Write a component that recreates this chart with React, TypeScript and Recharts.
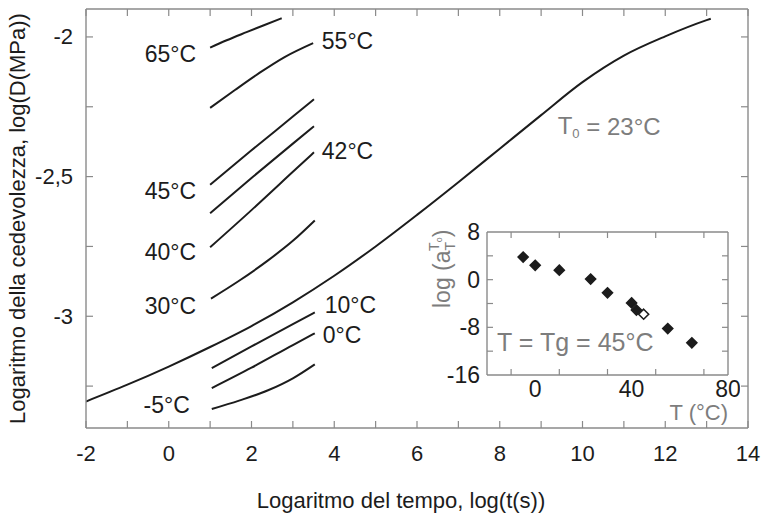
import React from "react";
import { LineChart, Line, XAxis, YAxis, ReferenceDot, ScatterChart, Scatter } from "recharts";

const FONT = "'Liberation Sans', Arial, Helvetica, sans-serif";
const INK = "#1c1c1c";
const GREY = "#7d7d7d";
const FRAME = "#8a8a8a";

// main plot axes
const X_TICKS = [-2, -1, 0, 1, 2, 3, 4, 5, 6, 7, 8, 9, 10, 11, 12, 13, 14];
const Y_TICKS = [-3.25, -3, -2.75, -2.5, -2.25, -2];
const Y_LABELED = [-3, -2.5, -2];

// master curve, T0 = 23°C
const MASTER_X = [-2, -1, 0, 1, 2, 3, 4, 5, 6, 7, 8, 9, 10, 11, 12, 13, 13.1];
const MASTER_Y = [-3.305, -3.245, -3.18, -3.11, -3.035, -2.95, -2.855, -2.75, -2.637, -2.52, -2.4, -2.28, -2.162, -2.067, -1.998, -1.94, -1.935];

// isotherms (log t, log D)
const T65_X = [1, 1.4, 1.88, 2.3, 2.73];
const T65_Y = [-2.038, -2.012, -1.983, -1.958, -1.933];
const T55_X = [1, 1.6, 2.2, 2.8, 3.49];
const T55_Y = [-2.254, -2.19, -2.128, -2.072, -2.022];
const T45_X = [1, 2, 3, 3.51];
const T45_Y = [-2.529, -2.406, -2.285, -2.223];
const T42_X = [1, 2, 3, 3.51];
const T42_Y = [-2.631, -2.505, -2.382, -2.32];
const T40_X = [1, 2, 3, 3.51];
const T40_Y = [-2.753, -2.62, -2.483, -2.413];
const T30_X = [1.02, 1.7, 2.4, 3, 3.53];
const T30_Y = [-2.937, -2.873, -2.8, -2.73, -2.657];
const T10_X = [1.04, 2, 3, 3.53];
const T10_Y = [-3.186, -3.108, -3.028, -2.986];
const T0_X = [1.04, 2, 3, 3.53];
const T0_Y = [-3.257, -3.184, -3.103, -3.061];
const TM5_X = [1.04, 1.7, 2.4, 3, 3.53];
const TM5_Y = [-3.332, -3.302, -3.265, -3.222, -3.172];

// inset: shift factor vs temperature
const SHIFT_T = [-5, 0, 10, 23, 30, 40, 42, 55, 65];
const SHIFT_LOG = [3.8, 2.4, 1.6, 0.1, -2.2, -3.9, -5.1, -8.2, -10.6];
const TG_T = [45];
const TG_LOG = [-5.8];
const INSET_X_TICKS = [-10, 0, 10, 30, 40, 50, 70, 80];
const INSET_X_LABELED = [0, 40, 80];
const INSET_Y_TICKS = [-16, -12, -8, -4, 0, 4, 8];
const INSET_Y_LABELED = [-16, -8, 0, 8];

const zip = (xs: number[], ys: number[]) => xs.map((x, i) => ({ x, y: ys[i] }));

const MASTER = zip(MASTER_X, MASTER_Y);
const ISOTHERMS = [
  zip(T65_X, T65_Y), zip(T55_X, T55_Y), zip(T45_X, T45_Y), zip(T42_X, T42_Y), zip(T40_X, T40_Y),
  zip(T30_X, T30_Y), zip(T10_X, T10_Y), zip(T0_X, T0_Y), zip(TM5_X, TM5_Y),
];
const SHIFTS = SHIFT_T.map((t, i) => ({ t, a: SHIFT_LOG[i] }));
const TG = TG_T.map((t, i) => ({ t, a: TG_LOG[i] }));

const txt = { fontFamily: FONT };

const BottomTick = ({ x, y, payload }: any) => (
  <g>
    <line x1={x} y1={y} x2={x} y2={y - 7} stroke={FRAME} strokeWidth={1.2} />
    {payload.value % 2 === 0 && (
      <text x={x} y={y + 25} textAnchor="middle" dominantBaseline="central" fontSize={22} fill={INK} style={txt}>
        {payload.value}
      </text>
    )}
  </g>
);
const TopTick = ({ x, y }: any) => <line x1={x} y1={y} x2={x} y2={y + 7} stroke={FRAME} strokeWidth={1.2} />;
const LeftTick = ({ x, y, payload }: any) => (
  <g>
    <line x1={x} y1={y} x2={x + 7} y2={y} stroke={FRAME} strokeWidth={1.2} />
    {Y_LABELED.includes(payload.value) && (
      <text x={x - 13} y={y} textAnchor="end" dominantBaseline="central" fontSize={22} fill={INK} style={txt}>
        {String(payload.value).replace(".", ",")}
      </text>
    )}
  </g>
);
const RightTick = ({ x, y }: any) => <line x1={x} y1={y} x2={x - 7} y2={y} stroke={FRAME} strokeWidth={1.2} />;

const InsetBottomTick = ({ x, y, payload }: any) => (
  <g>
    {!INSET_X_LABELED.includes(payload.value) && (
      <line x1={x} y1={y} x2={x} y2={y - 6} stroke={FRAME} strokeWidth={1.2} />
    )}
    {INSET_X_LABELED.includes(payload.value) && (
      <text x={x} y={y + 14} textAnchor="middle" dominantBaseline="central" fontSize={23} fill={INK} style={txt}>
        {payload.value}
      </text>
    )}
  </g>
);
const InsetTopTick = ({ x, y, payload }: any) =>
  INSET_X_LABELED.includes(payload.value) ? <g /> : <line x1={x} y1={y} x2={x} y2={y + 6} stroke={FRAME} strokeWidth={1.2} />;
const InsetLeftTick = ({ x, y, payload }: any) => (
  <g>
    {payload.value !== 8 && payload.value !== -16 && (
      <line x1={x} y1={y} x2={x + 6} y2={y} stroke={FRAME} strokeWidth={1.2} />
    )}
    {INSET_Y_LABELED.includes(payload.value) && (
      <text x={x - 7} y={y} textAnchor="end" dominantBaseline="central" fontSize={23} fill={INK} style={txt}>
        {payload.value}
      </text>
    )}
  </g>
);
const InsetRightTick = ({ x, y, payload }: any) =>
  payload.value === 8 || payload.value === -16 ? <g /> : <line x1={x} y1={y} x2={x - 6} y2={y} stroke={FRAME} strokeWidth={1.2} />;

const tag = (text: string, anchor: "start" | "end", size = 23, color = INK) => ({ viewBox }: any) => (
  <text x={viewBox.x} y={viewBox.y} textAnchor={anchor} dominantBaseline="central" fontSize={size} fill={color} style={txt}>
    {text}
  </text>
);

const Diamond = ({ cx, cy, open }: any) => (
  <polygon
    points={`${cx},${cy - 5} ${cx + 5},${cy} ${cx},${cy + 5} ${cx - 5},${cy}`}
    fill={open ? "#fff" : INK}
    stroke={INK}
    strokeWidth={1.6}
  />
);

const frame = { stroke: FRAME, strokeWidth: 1.4 };

export default function App() {
  return (
    <div style={{ position: "absolute", left: 0, top: 0, width: 764, height: 517, background: "#fff" }}>
      <LineChart width={764} height={517} margin={{ top: 8, right: 15, bottom: 0, left: 0 }}>
        <XAxis
          xAxisId="b" type="number" dataKey="x" domain={[-2, 14]} ticks={X_TICKS} interval={0}
          allowDataOverflow height={89} tickSize={0} tickMargin={0} tickLine={false} axisLine={frame}
          tick={BottomTick}
          label={({ viewBox }: any) => (
            <text x={viewBox.x + viewBox.width / 2 - 16} y={viewBox.y + 72} textAnchor="middle" dominantBaseline="central" fontSize={22} fill={INK} style={txt}>
              Logaritmo del tempo, log(t(s))
            </text>
          )}
        />
        <XAxis
          xAxisId="t" orientation="top" type="number" dataKey="x" domain={[-2, 14]} ticks={X_TICKS} interval={0}
          allowDataOverflow height={1} tickSize={0} tickMargin={0} tickLine={false} axisLine={frame} tick={TopTick}
        />
        <YAxis
          yAxisId="l" type="number" dataKey="y" domain={[-3.4, -1.9]} ticks={Y_TICKS} interval={0}
          allowDataOverflow width={86} tickSize={0} tickMargin={0} tickLine={false} axisLine={frame}
          tick={LeftTick}
          label={({ viewBox }: any) => {
            const cx = viewBox.x + 25;
            const cy = viewBox.y + viewBox.height / 2;
            return (
              <text x={cx} y={cy} transform={`rotate(-90, ${cx}, ${cy})`} textAnchor="middle" fontSize={22} fill={INK} style={txt}>
                Logaritmo della cedevolezza, log(D(MPa))
              </text>
            );
          }}
        />
        <YAxis
          yAxisId="r" orientation="right" type="number" dataKey="y" domain={[-3.4, -1.9]} ticks={Y_TICKS} interval={0}
          allowDataOverflow width={1} tickSize={0} tickMargin={0} tickLine={false} axisLine={frame} tick={RightTick}
        />
        <Line
          xAxisId="b" yAxisId="l" data={MASTER} dataKey="y" type="monotone" stroke={INK} strokeWidth={2}
          dot={false} isAnimationActive={false}
        />
        {ISOTHERMS.map((d, i) => (
          <Line
            key={i} xAxisId="b" yAxisId="l" data={d} dataKey="y" type="monotone" stroke={INK} strokeWidth={2}
            dot={false} isAnimationActive={false}
          />
        ))}
        <ReferenceDot xAxisId="b" yAxisId="l" x={0.66} y={-2.061} r={0} fill="none" stroke="none" label={tag("65°C", "end")} />
        <ReferenceDot xAxisId="b" yAxisId="l" x={0.66} y={-2.55} r={0} fill="none" stroke="none" label={tag("45°C", "end")} />
        <ReferenceDot xAxisId="b" yAxisId="l" x={0.66} y={-2.771} r={0} fill="none" stroke="none" label={tag("40°C", "end")} />
        <ReferenceDot xAxisId="b" yAxisId="l" x={0.66} y={-2.964} r={0} fill="none" stroke="none" label={tag("30°C", "end")} />
        <ReferenceDot xAxisId="b" yAxisId="l" x={0.51} y={-3.318} r={0} fill="none" stroke="none" label={tag("-5°C", "end")} />
        <ReferenceDot xAxisId="b" yAxisId="l" x={3.7} y={-2.014} r={0} fill="none" stroke="none" label={tag("55°C", "start")} />
        <ReferenceDot xAxisId="b" yAxisId="l" x={3.7} y={-2.407} r={0} fill="none" stroke="none" label={tag("42°C", "start")} />
        <ReferenceDot xAxisId="b" yAxisId="l" x={3.77} y={-2.961} r={0} fill="none" stroke="none" label={tag("10°C", "start")} />
        <ReferenceDot xAxisId="b" yAxisId="l" x={3.72} y={-3.068} r={0} fill="none" stroke="none" label={tag("0°C", "start")} />
        <ReferenceDot
          xAxisId="b" yAxisId="l" x={9.4} y={-2.318} r={0} fill="none" stroke="none"
          label={({ viewBox }: any) => (
            <text x={viewBox.x} y={viewBox.y} dominantBaseline="central" fontSize={24} fill={GREY} style={txt}>
              T<tspan fontSize={13} dy={7}>0</tspan>
              <tspan dy={-7}> = 23°C</tspan>
            </text>
          )}
        />
      </LineChart>

      <div style={{ position: "absolute", left: 400, top: 220 }}>
        <ScatterChart width={340} height={216} margin={{ top: 11, right: 11, bottom: 0, left: 0 }}>
          <XAxis
            xAxisId="b" type="number" dataKey="t" domain={[-20, 80]} ticks={INSET_X_TICKS} interval={0}
            allowDataOverflow height={61} tickSize={0} tickMargin={0} tickLine={false} axisLine={frame}
            tick={InsetBottomTick}
            label={({ viewBox }: any) => (
              <text x={viewBox.x + viewBox.width} y={viewBox.y + 37} textAnchor="end" dominantBaseline="central" fontSize={22} fill={GREY} style={txt}>
                T (°C)
              </text>
            )}
          />
          <XAxis
            xAxisId="t" orientation="top" type="number" dataKey="t" domain={[-20, 80]} ticks={INSET_X_TICKS} interval={0}
            allowDataOverflow height={1} tickSize={0} tickMargin={0} tickLine={false} axisLine={frame} tick={InsetTopTick}
          />
          <YAxis
            yAxisId="l" type="number" dataKey="a" domain={[-16, 8]} ticks={INSET_Y_TICKS} interval={0}
            allowDataOverflow width={87} tickSize={0} tickMargin={0} tickLine={false} axisLine={frame}
            tick={InsetLeftTick}
            label={({ viewBox }: any) => {
              const bx = viewBox.x + 50;
              const by = viewBox.y + 76;
              return (
                <text x={bx} y={by} transform={`rotate(-90, ${bx}, ${by})`} textAnchor="start" fontSize={23} fill={GREY} style={txt}>
                  log (a<tspan fontSize={14} dy={5}>T</tspan>
                  <tspan fontSize={14} dx={-9} dy={-16}>T</tspan>
                  <tspan fontSize={9} dy={3}>o</tspan>
                  <tspan fontSize={23} dy={8}>)</tspan>
                </text>
              );
            }}
          />
          <YAxis
            yAxisId="r" orientation="right" type="number" dataKey="a" domain={[-16, 8]} ticks={INSET_Y_TICKS} interval={0}
            allowDataOverflow width={1} tickSize={0} tickMargin={0} tickLine={false} axisLine={frame} tick={InsetRightTick}
          />
          <Scatter
            xAxisId="b" yAxisId="l" data={SHIFTS} dataKey="a" isAnimationActive={false}
            shape={(p: any) => <Diamond cx={p.cx} cy={p.cy} />}
          />
          <Scatter
            xAxisId="b" yAxisId="l" data={TG} dataKey="a" isAnimationActive={false}
            shape={(p: any) => <Diamond cx={p.cx} cy={p.cy} open />}
          />
          <ReferenceDot
            xAxisId="b" yAxisId="l" x={-15.8} y={-10.5} r={0} fill="none" stroke="none"
            label={tag("T = Tg = 45°C", "start", 25, GREY)}
          />
        </ScatterChart>
      </div>
    </div>
  );
}
